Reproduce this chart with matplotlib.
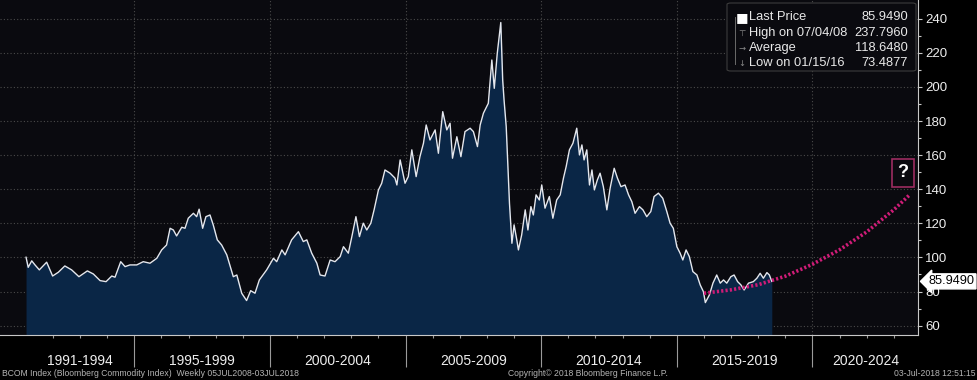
import matplotlib
matplotlib.use("Agg")
import matplotlib.pyplot as plt
import matplotlib.transforms as mtransforms
from matplotlib.patches import FancyBboxPatch

# BCOM weekly closes (decimal year, index level)
years = [
    1991.01, 1991.09, 1991.22, 1991.34, 1991.50, 1991.77, 1991.99, 1992.20, 1992.44, 1992.69,
    1992.96, 1993.27, 1993.49, 1993.74, 1993.96, 1994.17, 1994.29, 1994.50, 1994.66, 1994.84,
    1995.09, 1995.33, 1995.58, 1995.83, 1996.01, 1996.19, 1996.32, 1996.44, 1996.56, 1996.75,
    1996.87, 1996.99, 1997.18, 1997.30, 1997.39, 1997.52, 1997.64, 1997.79, 1997.91, 1998.06,
    1998.22, 1998.41, 1998.65, 1998.78, 1998.96, 1999.14, 1999.29, 1999.45, 1999.61, 1999.88,
    2000.13, 2000.25, 2000.44, 2000.56, 2000.80, 2001.05, 2001.23, 2001.36, 2001.54, 2001.73,
    2001.85, 2002.03, 2002.22, 2002.40, 2002.59, 2002.71, 2002.89, 2003.02, 2003.17, 2003.30,
    2003.44, 2003.57, 2003.72, 2003.84, 2004.00, 2004.12, 2004.24, 2004.43, 2004.61, 2004.68,
    2004.80, 2004.98, 2005.10, 2005.23, 2005.39, 2005.53, 2005.66, 2005.76, 2005.90, 2006.09,
    2006.21, 2006.37, 2006.52, 2006.64, 2006.73, 2006.89, 2007.04, 2007.19, 2007.38, 2007.50,
    2007.65, 2007.75, 2007.87, 2008.05, 2008.18, 2008.27, 2008.38, 2008.51, 2008.58, 2008.63,
    2008.71, 2008.83, 2008.92, 2009.00, 2009.10, 2009.16, 2009.28, 2009.41, 2009.51, 2009.62,
    2009.71, 2009.81, 2009.93, 2010.02, 2010.14, 2010.30, 2010.43, 2010.57, 2010.70, 2010.82,
    2010.92, 2011.04, 2011.17, 2011.31, 2011.41, 2011.50, 2011.58, 2011.68, 2011.78, 2011.87,
    2011.96, 2012.07, 2012.17, 2012.29, 2012.42, 2012.54, 2012.69, 2012.81, 2012.94, 2013.09,
    2013.22, 2013.34, 2013.46, 2013.62, 2013.75, 2013.89, 2014.04, 2014.16, 2014.32, 2014.48,
    2014.63, 2014.75, 2014.87, 2015.00, 2015.12, 2015.22, 2015.34, 2015.46, 2015.59, 2015.74,
    2015.86, 2015.98, 2016.05, 2016.20, 2016.33, 2016.47, 2016.60, 2016.72, 2016.84, 2016.99,
    2017.11, 2017.24, 2017.36, 2017.48, 2017.64, 2017.82, 2017.95, 2018.07, 2018.19, 2018.32,
    2018.41, 2018.50,
]
prices = [
    100.1, 94.2, 98.0, 95.6, 92.7, 97.2, 89.1, 91.3, 95.0, 92.7,
    88.7, 92.1, 90.3, 86.4, 85.8, 89.1, 88.4, 97.5, 94.6, 95.6,
    95.6, 97.5, 96.6, 99.5, 104.4, 107.3, 117.1, 116.1, 112.6, 117.7,
    117.1, 123.0, 125.9, 123.9, 128.3, 117.1, 123.9, 124.9, 119.1, 110.3,
    107.3, 101.5, 88.7, 89.7, 79.0, 74.7, 80.5, 79.0, 86.8, 92.7,
    99.5, 97.5, 104.4, 101.5, 110.3, 115.1, 109.3, 110.3, 102.5, 96.6,
    89.7, 89.1, 98.5, 97.5, 100.5, 106.3, 102.5, 112.2, 123.9, 112.2,
    120.1, 116.1, 120.1, 127.9, 139.6, 143.5, 151.3, 149.4, 146.5, 142.5,
    157.2, 143.5, 147.4, 163.1, 147.4, 159.1, 167.0, 177.7, 168.9, 174.8,
    161.1, 185.5, 174.8, 178.7, 158.2, 170.8, 159.1, 173.8, 175.8, 173.8,
    165.0, 177.7, 184.6, 190.4, 215.8, 199.2, 219.7, 237.8, 204.1, 192.4,
    176.7, 131.8, 108.3, 119.1, 110.3, 104.4, 113.2, 127.9, 116.1, 129.8,
    124.9, 136.7, 133.7, 142.5, 128.9, 135.7, 123.0, 133.7, 136.7, 146.5,
    153.3, 163.1, 167.0, 175.8, 160.1, 166.0, 157.2, 163.1, 142.5, 151.3,
    139.6, 145.5, 149.4, 141.5, 127.9, 140.6, 152.3, 146.5, 141.5, 142.5,
    136.7, 132.7, 125.9, 129.8, 127.9, 123.9, 126.9, 135.7, 137.7, 134.7,
    126.9, 120.1, 117.1, 106.3, 102.5, 98.5, 104.4, 100.5, 91.7, 89.7,
    83.9, 79.9, 73.5, 78.0, 84.9, 89.7, 84.9, 86.8, 84.9, 88.7,
    89.7, 85.8, 83.9, 80.9, 84.9, 85.8, 87.8, 90.7, 87.8, 91.1,
    89.7, 85.949,
]

# hand drawn projection curve
proj_years = [2016.0, 2017.0, 2018.0, 2019.0, 2020.0, 2021.0, 2022.0, 2023.0, 2023.6]
proj_vals = [79, 81, 84, 89, 96, 104.5, 115, 128, 137]

periods = ["1991-1994", "1995-1999", "2000-2004", "2005-2009", "2010-2014", "2015-2019", "2020-2024"]
period_start = [1991, 1995, 2000, 2005, 2010, 2015, 2020]
period_end = [1995, 2000, 2005, 2010, 2015, 2020, 2025]

legend_labels = ["Last Price", "High on 07/04/08", "Average", "Low on 01/15/16"]
legend_values = ["85.9490", "237.7960", "118.6480", "73.4877"]
legend_marks = ["\u25a0", "\u22a4", "\u2192", "\u2193"]

x_left, x_right = 1990.05, 2023.9
y_low, y_high = 54.5, 251.0

W, H = 977, 380
sans = ["Liberation Sans", "DejaVu Sans"]
narrow = ["Liberation Sans Narrow", "Liberation Sans", "DejaVu Sans"]

fig = plt.figure(figsize=(W / 100, H / 100), dpi=100, facecolor="black")
ax = fig.add_axes([0, 1 - 335 / H, 918.3 / W, 335 / H])
ax.set_facecolor("#0a0a0f")

ax.fill_between(years, prices, y_low, color="#0a2646", lw=0, zorder=2)
ax.plot(years, prices, color="#e4e7ee", lw=1.0, zorder=3)
ax.plot(proj_years, proj_vals, color="#d01c78", lw=2.6, ls=(0, (0.6, 0.6)), zorder=4)

ax.set_xlim(x_left, x_right)
ax.set_ylim(y_low, y_high)

# axes, ticks, grid
for s in ["top", "left"]:
    ax.spines[s].set_visible(False)
for s in ["right", "bottom"]:
    ax.spines[s].set_color("#c8c8c8")
    ax.spines[s].set_linewidth(0.8)

ax.yaxis.tick_right()
ax.set_yticks(range(60, 241, 20))
ax.set_yticks(range(70, 241, 20), minor=True)
ax.tick_params(axis="y", which="major", length=3, width=0.8, color="#c8c8c8",
               labelcolor="#eeeeee", labelsize=9.5, pad=2)
ax.tick_params(axis="y", which="minor", length=2, width=0.8, color="#c8c8c8")
for t in ax.get_yticklabels():
    t.set_fontfamily(sans)

ax.set_xticks(period_start[1:])
ax.set_xticks(range(1992, 2024), minor=True)
ax.set_xticklabels([])
ax.tick_params(axis="x", which="major", length=23, width=0.8, color="#9a9a9a")
ax.tick_params(axis="x", which="minor", length=2.5, width=0.8, color="#9a9a9a")

ax.grid(True, which="major", color="#4a4a4a", lw=0.8, ls=(0, (1, 2)), zorder=1)
ax.set_axisbelow(True)

# period labels under the axis
blend = mtransforms.blended_transform_factory(ax.transData, ax.transAxes)
for name, a, b in zip(periods, period_start, period_end):
    mid = (a + min(b, x_right)) / 2
    ax.text(mid, -0.077, name, transform=blend, ha="center", va="center",
            color="#eeeeee", fontsize=10, family=sans, clip_on=False)

# question mark box
ax.text(2023.34, 149.6, "?", color="white", fontsize=13, fontweight="bold", family=sans,
        ha="center", va="center", zorder=6,
        bbox=dict(boxstyle="square,pad=0.3", fc="#0a0a0f", ec="#9c2c60", lw=1.2))

# last price tag on the right axis
yblend = mtransforms.blended_transform_factory(ax.transAxes, ax.transData)
ax.text(1.011, prices[-1], legend_values[0], transform=yblend, ha="left", va="center",
        color="black", fontsize=9.2, family=sans, clip_on=False, zorder=7,
        bbox=dict(boxstyle="larrow,pad=0.12", fc="white", ec="white"))


# legend box in pixel coords
def fx(px):
    return px / W


def fy(py):
    return 1 - py / H


box = FancyBboxPatch((fx(727), fy(71)), fx(916) - fx(727), fy(3) - fy(71),
                     boxstyle="round,pad=0,rounding_size=0.004", transform=fig.transFigure,
                     fc="#0a0a0f", ec="#3c3c3c", lw=0.8, zorder=1)
fig.add_artist(box)
fig.add_artist(plt.Line2D([fx(735), fx(735)], [fy(17), fy(64)], color="#6a6a6a",
                          lw=0.7, transform=fig.transFigure, zorder=2))
rows = [17.3, 33.3, 48.3, 63.3]
for lab, val, mk, ry in zip(legend_labels, legend_values, legend_marks, rows):
    first = mk == "\u25a0"
    fig.text(fx(742), fy(ry), mk, color="white" if first else "#8a8a8a",
             fontsize=9.5 if first else 6, ha="center", va="center", family=["DejaVu Sans"], zorder=3)
    fig.text(fx(749), fy(ry), lab, color="#e8e8e8", fontsize=9.3, ha="left", va="center",
             family=sans, zorder=3)
    fig.text(fx(908), fy(ry), val, color="#e8e8e8", fontsize=9.3, ha="right", va="center",
             family=sans, zorder=3)

# footer
fig.text(fx(2), fy(374), "BCOM Index (Bloomberg Commodity Index)  Weekly 05JUL2008-03JUL2018",
         color="#b4b4b4", fontsize=6.2, family=narrow, ha="left", va="center")
fig.text(fx(588), fy(374), "Copyright\u00a9 2018 Bloomberg Finance L.P.",
         color="#b4b4b4", fontsize=6.2, family=narrow, ha="center", va="center")
fig.text(fx(975), fy(374), "03-Jul-2018 12:51:15",
         color="#b4b4b4", fontsize=6.2, family=narrow, ha="right", va="center")

fig.savefig("out.png", dpi=100, facecolor="black")
